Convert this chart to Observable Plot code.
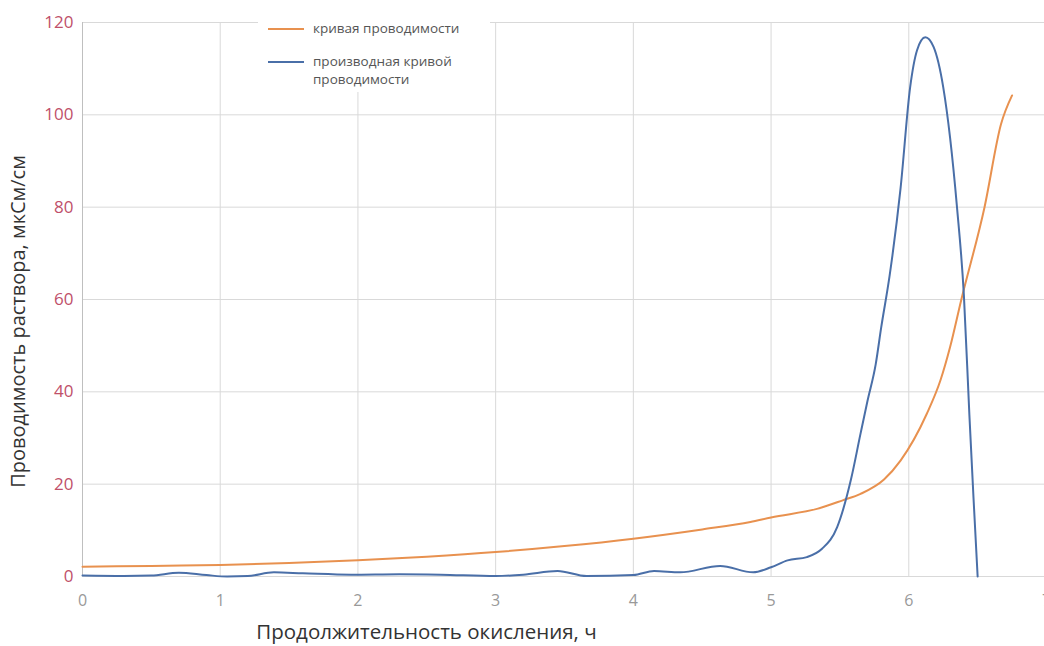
<!DOCTYPE html>
<html>
<head>
<meta charset="utf-8">
<script src="https://cdn.jsdelivr.net/npm/d3@7"></script>
<script src="https://cdn.jsdelivr.net/npm/@observablehq/plot@0.6"></script>
<style>
  html, body { margin: 0; padding: 0; background: #fff; overflow: hidden; }
  #wrap { position: relative; width: 1044px; height: 646px; overflow: hidden; font-family: "Open Sans", "DejaVu Sans", sans-serif; }
  #chart { position: absolute; left: 0; top: 0; width: 1060px; }
  #chart svg { max-width: none !important; }
  #legend { position: absolute; left: 258px; top: 14px; width: 232px; height: 78px; background: #fff; font-size: 13.5px; color: #555; }
  .sw { position: absolute; left: 10px; width: 36px; height: 2px; }
  .lt { position: absolute; left: 55px; line-height: 18px; white-space: nowrap; }
</style>
</head>
<body>
<div id="wrap">
  <div id="chart"></div>
  <div id="legend"></div>
</div>
<script>
// Conductivity curve (orange)
const timeCond = [0, 0.5, 1, 1.5, 2, 2.5, 3, 3.5, 4, 4.5, 4.85, 5, 5.34, 5.52, 5.65, 5.82, 5.94, 6.13, 6.23, 6.30, 6.38, 6.55, 6.67, 6.75];
const conductivity = [2.1, 2.3, 2.5, 2.9, 3.5, 4.3, 5.3, 6.6, 8.2, 10.2, 11.8, 12.8, 14.7, 16.5, 17.9, 21, 25.1, 35.2, 42.5, 49.7, 59.8, 80, 98, 104.2];

// Derivative of conductivity curve (blue)
const timeDeriv = [0, 0.3, 0.5, 0.7, 0.9, 1.05, 1.2, 1.39, 1.6, 1.95, 2.3, 2.6, 3.0, 3.2, 3.45, 3.66, 4.0, 4.15, 4.34, 4.63, 4.87, 5.0, 5.12, 5.26, 5.37, 5.48, 5.58, 5.65, 5.70, 5.76, 5.80, 5.86, 5.94, 6.01, 6.06, 6.12, 6.18, 6.25, 6.30, 6.35, 6.40, 6.44, 6.47, 6.50];
const derivative = [0.2, 0.1, 0.2, 0.8, 0.3, 0, 0.1, 0.9, 0.7, 0.4, 0.5, 0.4, 0.1, 0.4, 1.2, 0.1, 0.3, 1.2, 0.9, 2.3, 0.9, 2.0, 3.5, 4.2, 6, 10.7, 21, 31, 38, 46, 54, 65, 84, 106, 114, 116.8, 114.7, 106, 95, 80, 61, 35, 17, 0];

const xTicks = [0, 1, 2, 3, 4, 5, 6, 7];
const yTicks = [0, 20, 40, 60, 80, 100, 120];

const seriesNames = ["кривая проводимости", "производная кривой проводимости"];
const seriesColors = ["#e8914f", "#4a6fa8"];
const xTitle = "Продолжительность окисления, ч";
const yTitle = "Проводимость раствора, мкСм/см";

const condData = timeCond.map((t, i) => ({t, v: conductivity[i]}));
const derivData = timeDeriv.map((t, i) => ({t, v: derivative[i]}));

const chart = Plot.plot({
  width: 1060,
  height: 646,
  marginLeft: 82,
  marginRight: 14,
  marginTop: 22,
  marginBottom: 70,
  style: { fontFamily: "'Open Sans', 'DejaVu Sans', sans-serif", background: "transparent", maxWidth: "none" },
  x: { domain: [0, 7] },
  y: { domain: [0, 120] },
  marks: [
    Plot.gridX(xTicks, { stroke: "#d9d9d9", strokeOpacity: 1 }),
    Plot.gridY(yTicks, { stroke: "#d9d9d9", strokeOpacity: 1 }),
    Plot.ruleX([0], { stroke: "#bfbfbf" }),
    Plot.axisX(xTicks, { tickSize: 0, tickPadding: 18, fontSize: 16, color: "#999", label: null, tickFormat: "d" }),
    Plot.axisY(yTicks, { tickSize: 0, tickPadding: 9, fontSize: 17, color: "#c0506a", label: null, tickFormat: "d" }),
    Plot.line(condData, { x: "t", y: "v", stroke: seriesColors[0], strokeWidth: 2, curve: "monotone-x" }),
    Plot.line(derivData, { x: "t", y: "v", stroke: seriesColors[1], strokeWidth: 2, curve: "monotone-x" }),
    Plot.text([xTitle], { frameAnchor: "bottom", dy: 62, dx: -138, fontSize: 20.5, fill: "#333" }),
    Plot.text([yTitle], { frameAnchor: "left", textAnchor: "middle", dx: -64, dy: 22, rotate: -90, fontSize: 20, fill: "#333" })
  ]
});
document.getElementById("chart").appendChild(chart);

// Legend
const legend = document.getElementById("legend");
const swTops = [14, 47];
const txtTops = [5, 38];
const labels = [["кривая проводимости"], ["производная кривой", "проводимости"]];
seriesNames.forEach((name, i) => {
  const sw = document.createElement("div");
  sw.className = "sw";
  sw.style.top = swTops[i] + "px";
  sw.style.background = seriesColors[i];
  const txt = document.createElement("div");
  txt.className = "lt";
  txt.style.top = txtTops[i] + "px";
  txt.innerHTML = labels[i].join("<br>");
  legend.appendChild(sw);
  legend.appendChild(txt);
});
</script>
</body>
</html>
